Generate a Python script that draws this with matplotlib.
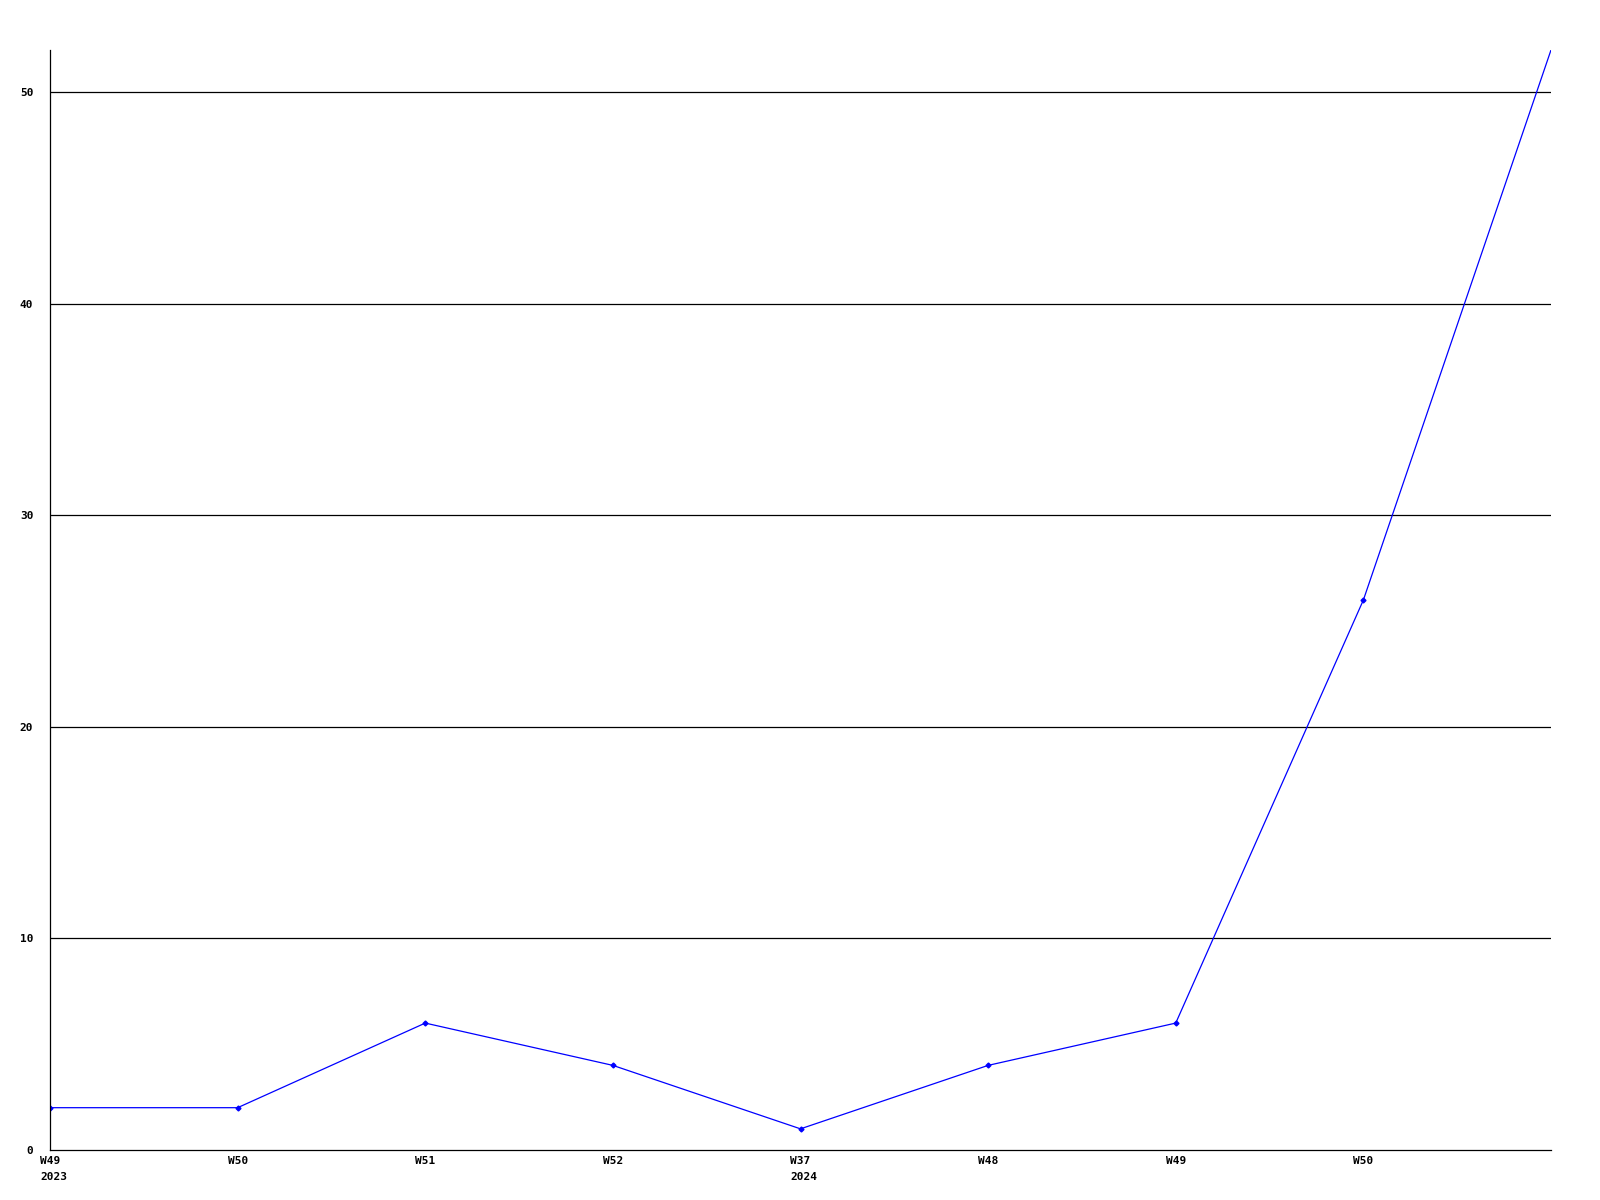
import matplotlib
matplotlib.use('Agg')
import matplotlib.pyplot as plt
import matplotlib.transforms as mtransforms

weeks = ['W49', 'W50', 'W51', 'W52', 'W37', 'W48', 'W49', 'W50', '']
years = {0: '2023', 4: '2024'}
values = [2, 2, 6, 4, 1, 4, 6, 26, 52]
yticks = [0, 10, 20, 30, 40, 50]

plt.rcParams['font.family'] = ['DejaVu Sans Mono']

fig = plt.figure(figsize=(16, 12), dpi=100)
ax = fig.add_axes([50/1600, 1 - 1150/1200, 1501/1600, 1100/1200])

x = list(range(len(values)))
ax.plot(x, values, color='#0000ff', linewidth=0.9, marker='D', markersize=2.5,
        markevery=list(range(len(values) - 1)))

ax.set_xlim(0, len(values) - 1)
ax.set_ylim(0, 52)

for v in yticks[1:]:
    ax.axhline(v, color='black', linewidth=0.9, zorder=0)

ax.set_yticks(yticks)
ax.set_yticklabels([str(v) for v in yticks], fontsize=8, fontweight='bold')
ax.tick_params(axis='y', length=0, pad=12)

ax.set_xticks(x[:-1])
ax.set_xticklabels(weeks[:-1], fontsize=8, fontweight='bold', ha='left')
ax.tick_params(axis='x', length=0, pad=4)
shift = mtransforms.ScaledTranslation(-10/100, 0, fig.dpi_scale_trans)
for lab in ax.get_xticklabels():
    lab.set_transform(lab.get_transform() + shift)

for i, yr in years.items():
    ax.annotate(yr, xy=(i, 0), xycoords=('data', 'axes fraction'),
                xytext=(-10, -22), textcoords='offset pixels',
                ha='left', va='top', fontsize=8, fontweight='bold')

for s in ['top', 'right']:
    ax.spines[s].set_visible(False)
for s in ['left', 'bottom']:
    ax.spines[s].set_linewidth(0.9)

fig.savefig('out.png', dpi=100)
